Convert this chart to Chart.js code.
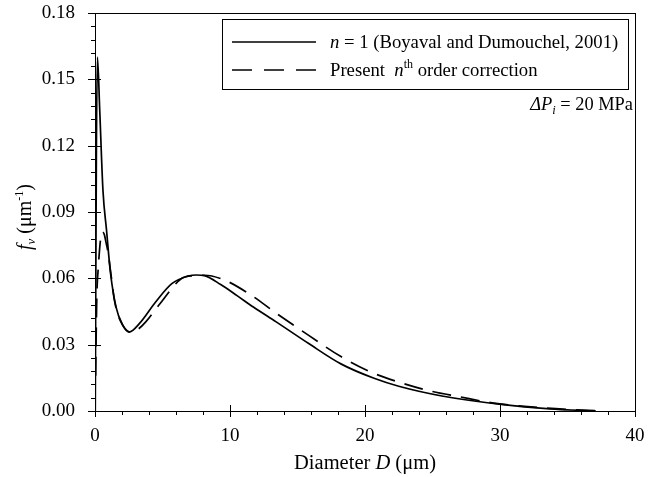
<!DOCTYPE html>
<html>
<head>
<meta charset="utf-8">
<script src="https://cdn.jsdelivr.net/npm/chart.js@4.4.0/dist/chart.umd.min.js"></script>
<style>
  html, body { margin: 0; padding: 0; background: #fff; }
  #wrap { width: 672px; height: 477px; position: relative; }
</style>
</head>
<body>
<div id="wrap"><canvas id="chart"></canvas></div>
<script>
const SERIF = '"Liberation Serif", "DejaVu Serif", serif';

// n = 1 (Boyaval and Dumouchel, 2001) - solid curve
const solidD = [0.02, 0.1, 0.18, 0.35, 0.59, 0.85, 1.15, 1.56, 2.0, 2.53, 3.28, 4.49, 5.69, 6.9, 7.5, 8.1, 9.31, 10.52, 11.73, 13.42, 15.83, 18.25, 20.67, 22.5, 25.7, 30.1, 33.7, 37.1];
const solidF = [0.0, 0.115, 0.160, 0.136, 0.0997, 0.082, 0.0623, 0.047, 0.0395, 0.0357, 0.0395, 0.0493, 0.0576, 0.061, 0.0615, 0.0612, 0.0572, 0.0522, 0.0470, 0.0403, 0.0305, 0.0212, 0.0148, 0.0112, 0.0068, 0.0030, 0.0010, 0.0];

// present nth order correction - dashed curve
const dashD = [0.05, 0.1, 0.15, 0.23, 0.38, 0.52, 0.68, 0.83, 0.96, 1.2, 1.44, 1.9, 2.7, 3.2, 3.76, 4.72, 6.41, 7.3, 8.1, 9.56, 11.49, 13.5, 15.83, 18.25, 20.67, 22.5, 25.0, 26.95, 29.4, 33.0, 36.0, 37.5];
const dashF = [0.016, 0.040, 0.055, 0.0636, 0.0758, 0.081, 0.080, 0.0758, 0.0719, 0.061, 0.050, 0.0405, 0.0355, 0.037, 0.0403, 0.0478, 0.0599, 0.0612, 0.0614, 0.0593, 0.0527, 0.0439, 0.0342, 0.0245, 0.0170, 0.0131, 0.0088, 0.0065, 0.0037, 0.0015, 0.0004, 0.0];

const xMin = 0, xMax = 40, xStep = 10, xMinor = 2;
const yMin = 0, yMax = 0.18, yStep = 0.03, yMinor = 0.006;

const toPts = (xs, ys) => xs.map((x, i) => ({ x, y: ys[i] }));

/* draw a run of text pieces (italic / sub / sup) */
function richWidth(ctx, parts, size) {
    let w = 0;
    parts.forEach(p => {
        ctx.font = `${p.it ? 'italic ' : ''}${p.s || size}px ${SERIF}`;
        w += ctx.measureText(p.t).width;
    });
    return w;
}
function drawRich(ctx, parts, x, y, size, align) {
    const w = richWidth(ctx, parts, size);
    let cx = align === 'right' ? x - w : align === 'center' ? x - w / 2 : x;
    ctx.textAlign = 'left';
    ctx.textBaseline = 'alphabetic';
    parts.forEach(p => {
        ctx.font = `${p.it ? 'italic ' : ''}${p.s || size}px ${SERIF}`;
        ctx.fillText(p.t, cx, y + (p.dy || 0));
        cx += ctx.measureText(p.t).width;
    });
}

const framePlugin = {
    id: 'frame',
    afterDraw(chart) {
        const { ctx, chartArea: a, scales: { x, y } } = chart;
        ctx.save();
        ctx.strokeStyle = '#000';
        ctx.fillStyle = '#000';
        ctx.lineWidth = 1;
        ctx.strokeRect(Math.round(a.left) + 0.5, Math.round(a.top) + 0.5,
            Math.round(a.right - a.left), Math.round(a.bottom - a.top));

        // axis ticks: majors cross the axis, minors point outward
        ctx.beginPath();
        const nx = Math.round((xMax - xMin) / xMinor);
        for (let i = 0; i <= nx; i++) {
            const v = xMin + i * xMinor;
            const px = Math.round(x.getPixelForValue(v)) + 0.5;
            const major = i % (xStep / xMinor) === 0;
            ctx.moveTo(px, a.bottom + (major ? -6 : 0));
            ctx.lineTo(px, a.bottom + (major ? 6 : 4));
        }
        const ny = Math.round((yMax - yMin) / yMinor);
        for (let i = 0; i <= ny; i++) {
            const v = yMin + i * yMinor;
            const py = Math.round(y.getPixelForValue(v)) + 0.5;
            const major = i % 5 === 0;
            ctx.moveTo(a.left + (major ? 6 : 0), py);
            ctx.lineTo(a.left - (major ? 7 : 4), py);
        }
        ctx.stroke();

        // legend
        const lx = 222, ly = 19, lw = 406, lh = 70;
        ctx.strokeRect(lx + 0.5, ly + 0.5, lw, lh);
        ctx.lineWidth = 1.7;
        ctx.beginPath();
        ctx.moveTo(232, 42); ctx.lineTo(316, 42);
        ctx.stroke();
        ctx.setLineDash([20, 12]);
        ctx.beginPath();
        ctx.moveTo(232, 70); ctx.lineTo(316, 70);
        ctx.stroke();
        ctx.setLineDash([]);
        drawRich(ctx, [{ t: 'n', it: true }, { t: ' = 1 (Boyaval and Dumouchel, 2001)' }], 330, 48, 18.7, 'left');
        drawRich(ctx, [{ t: 'Present  ' }, { t: 'n', it: true }, { t: 'th', s: 12, dy: -8 }, { t: ' order correction' }], 330, 76, 18.7, 'left');

        // pressure note
        drawRich(ctx, [{ t: 'ΔP', it: true }, { t: 'i', it: true, s: 12.5, dy: 4 }, { t: ' = 20 MPa' }], 633, 110, 18.4, 'right');

        // x axis title
        drawRich(ctx, [{ t: 'Diameter ' }, { t: 'D', it: true }, { t: ' (μm)' }], 365, 469, 20.5, 'center');

        // y axis title (rotated)
        ctx.translate(31, 217);
        ctx.rotate(-Math.PI / 2);
        drawRich(ctx, [{ t: 'f', it: true }, { t: 'v', it: true, s: 13, dy: 4 }, { t: ' (μm' }, { t: '-1', s: 12, dy: -8 }, { t: ')' }], 0, 0, 20, 'center');
        ctx.restore();
    }
};

new Chart(document.getElementById('chart'), {
    type: 'line',
    data: {
        datasets: [
            {
                label: 'n = 1 (Boyaval and Dumouchel, 2001)',
                data: toPts(solidD, solidF),
                borderColor: '#000', borderWidth: 1.7,
                pointRadius: 0, cubicInterpolationMode: 'monotone', fill: false
            },
            {
                label: 'Present nth order correction',
                data: toPts(dashD, dashF),
                borderColor: '#000', borderWidth: 1.7, borderDash: [19, 10],
                pointRadius: 0, cubicInterpolationMode: 'monotone', fill: false
            }
        ]
    },
    options: {
        responsive: true,
        maintainAspectRatio: false,
        animation: false,
        devicePixelRatio: 1,
        layout: { padding: { left: 0, top: 13, right: 37, bottom: 0 } },
        plugins: { legend: { display: false }, tooltip: { enabled: false } },
        scales: {
            x: {
                type: 'linear', min: xMin, max: xMax,
                grid: { display: false, drawTicks: false },
                border: { display: false },
                afterFit: s => { s.height = 66; s.paddingLeft = 0; s.paddingRight = 0; },
                ticks: {
                    stepSize: xStep, padding: 14, color: '#000',
                    font: { family: SERIF, size: 19 },
                    maxRotation: 0
                }
            },
            y: {
                type: 'linear', min: yMin, max: yMax,
                grid: { display: false, drawTicks: false },
                border: { display: false },
                afterFit: s => { s.width = 95; s.paddingTop = 0; s.paddingBottom = 0; },
                ticks: {
                    stepSize: yStep, padding: 20, color: '#000',
                    font: { family: SERIF, size: 19 },
                    callback: v => v.toFixed(2)
                }
            }
        }
    },
    plugins: [framePlugin]
});
</script>
</body>
</html>
